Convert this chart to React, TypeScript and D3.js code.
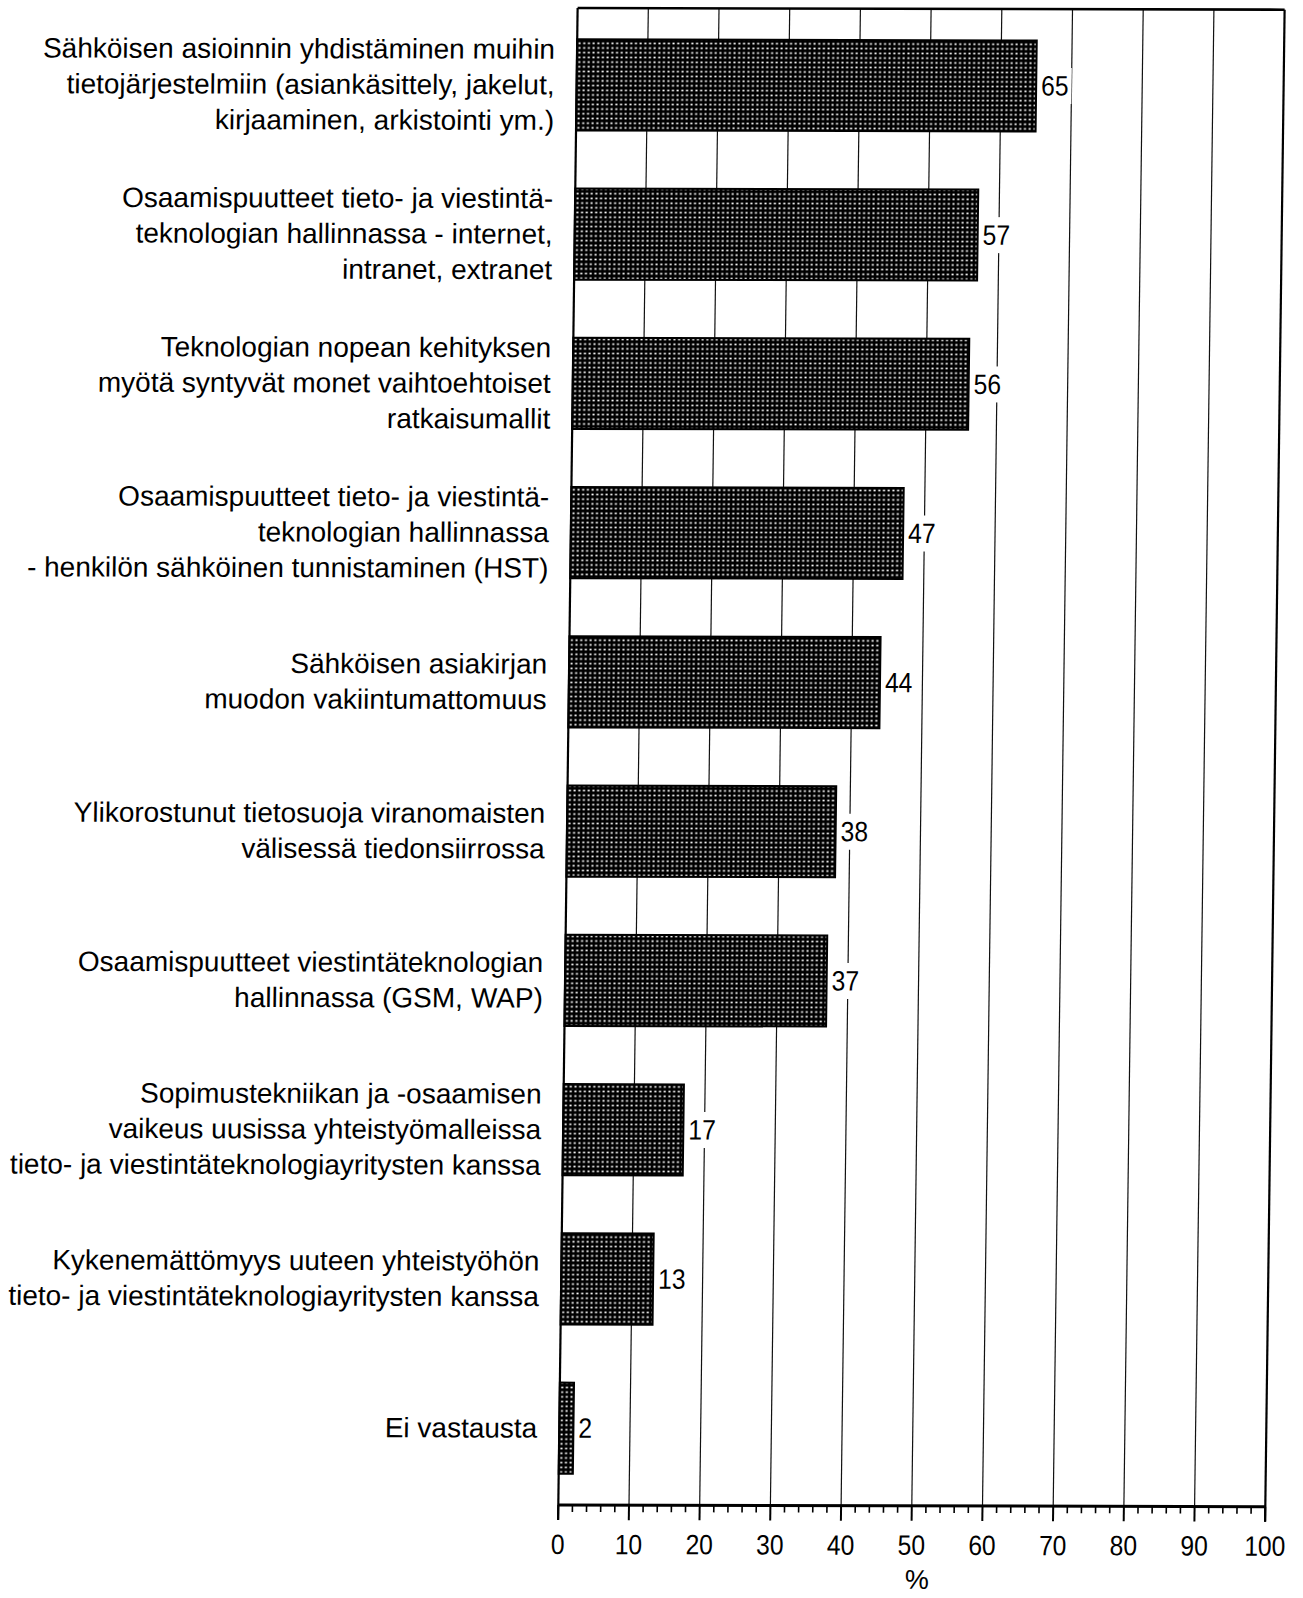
import React from "react";
import * as d3 from "d3";

const categoryLines: string[][] = [
  ["Sähköisen asioinnin yhdistäminen muihin", "tietojärjestelmiin (asiankäsittely, jakelut,", "kirjaaminen, arkistointi ym.)"],
  ["Osaamispuutteet tieto- ja viestintä-", "teknologian hallinnassa - internet,", "intranet, extranet"],
  ["Teknologian nopean kehityksen", "myötä syntyvät monet vaihtoehtoiset", "ratkaisumallit"],
  ["Osaamispuutteet tieto- ja viestintä-", "teknologian hallinnassa", "- henkilön sähköinen tunnistaminen (HST)"],
  ["Sähköisen asiakirjan", "muodon vakiintumattomuus"],
  ["Ylikorostunut tietosuoja viranomaisten", "välisessä tiedonsiirrossa"],
  ["Osaamispuutteet viestintäteknologian", "hallinnassa (GSM, WAP)"],
  ["Sopimustekniikan ja -osaamisen", "vaikeus uusissa yhteistyömalleissa", "tieto- ja viestintäteknologiayritysten kanssa"],
  ["Kykenemättömyys uuteen yhteistyöhön", "tieto- ja viestintäteknologiayritysten kanssa"],
  ["Ei vastausta"],
];
const values: number[] = [65, 57, 56, 47, 44, 38, 37, 17, 13, 2];
const majorTicks: number[] = [0, 10, 20, 30, 40, 50, 60, 70, 80, 90, 100];
const axisTitle = "%";

const W = 1303;
const H = 1598;
const plotW = 707;
const plotH = 1497;
const FONT = "'Liberation Sans', Arial, Helvetica, sans-serif";
const NUM_FS = 28;
const NUM_SX = 0.88;

export default function App() {
  const x = d3.scaleLinear().domain([0, 100]).range([0, plotW]);
  const idx = values.map((_, i) => i);
  const y = d3
    .scaleBand<number>()
    .domain(idx)
    .range([0, plotH])
    .paddingInner(0.39)
    .paddingOuter(0.21);
  const minorTicks = x.ticks(50).filter((t) => t % 10 !== 0);
  const lineGap = 35.6;

  return (
    <svg
      width={W}
      height={H}
      style={{ position: "absolute", left: 0, top: 0, background: "#fff" }}
      fontFamily={FONT}
    >
      <defs>
        <pattern id="dots" width={4.7} height={4.7} patternUnits="userSpaceOnUse">
          <rect width={4.7} height={4.7} fill="#000" />
          <rect x={1.4} y={1.5} width={2} height={1.7} fill="#fff" />
        </pattern>
      </defs>
      <rect width={W} height={H} fill="#fff" />
      <g transform={`translate(558.3,1505) matrix(1,0.0024,-0.0129,1,0,0) translate(0,${-plotH})`}>
        {/* grid lines */}
        {majorTicks
          .filter((t) => t !== 0 && t !== 100)
          .map((t) => (
            <line key={"g" + t} x1={x(t)} x2={x(t)} y1={0} y2={plotH} stroke="#111" strokeWidth={1.2} />
          ))}
        {/* frame */}
        <line x1={0} x2={plotW} y1={0} y2={0} stroke="#000" strokeWidth={2.6} />
        <line x1={plotW} x2={plotW} y1={0} y2={plotH + 15} stroke="#000" strokeWidth={2.2} />
        <line x1={0} x2={0} y1={0} y2={plotH + 15} stroke="#000" strokeWidth={2.2} />
        {/* bars */}
        {values.map((v, i) => (
          <rect
            key={"b" + i}
            x={x(0)}
            y={y(i)!}
            width={x(v) - x(0)}
            height={y.bandwidth()}
            fill="url(#dots)"
            stroke="#000"
            strokeWidth={2}
          />
        ))}
        {/* value labels with white backing */}
        {values.map((v, i) => {
          const cy = y(i)! + y.bandwidth() / 2;
          const tw = String(v).length * NUM_FS * 0.556 * NUM_SX;
          return (
            <g key={"v" + i}>
              <rect x={x(v) + 3} y={cy - 18} width={tw + 5} height={36} fill="#fff" />
              <text
                transform={`translate(${x(v) + 5},${cy}) scale(${NUM_SX},1)`}
                fontSize={NUM_FS}
                dominantBaseline="central"
                fill="#000"
              >
                {v}
              </text>
            </g>
          );
        })}
        {/* category labels */}
        {categoryLines.map((lines, i) => {
          const cy = y(i)! + y.bandwidth() / 2;
          return (
            <text key={"c" + i} fontSize={28} textAnchor="end" fill="#000">
              {lines.map((ln, j) => (
                <tspan
                  key={j}
                  x={-22}
                  y={cy + (j - (lines.length - 1) / 2) * lineGap}
                  dominantBaseline="central"
                >
                  {ln}
                </tspan>
              ))}
            </text>
          );
        })}
        {/* x axis */}
        <line x1={0} x2={plotW} y1={plotH} y2={plotH} stroke="#000" strokeWidth={3} />
        {majorTicks.map((t) => (
          <line key={"mt" + t} x1={x(t)} x2={x(t)} y1={plotH} y2={plotH + 15} stroke="#000" strokeWidth={2} />
        ))}
        {minorTicks.map((t) => (
          <line key={"mn" + t} x1={x(t)} x2={x(t)} y1={plotH} y2={plotH + 7} stroke="#000" strokeWidth={1.6} />
        ))}
        {majorTicks.map((t) => (
          <text
            key={"tl" + t}
            transform={`translate(${x(t)},${plotH + 49}) scale(${NUM_SX},1)`}
            fontSize={NUM_FS}
            textAnchor="middle"
            fill="#000"
          >
            {t}
          </text>
        ))}
        <text x={x(50) + 6} y={plotH + 83} fontSize={27} textAnchor="middle" fill="#000">
          {axisTitle}
        </text>
      </g>
    </svg>
  );
}
